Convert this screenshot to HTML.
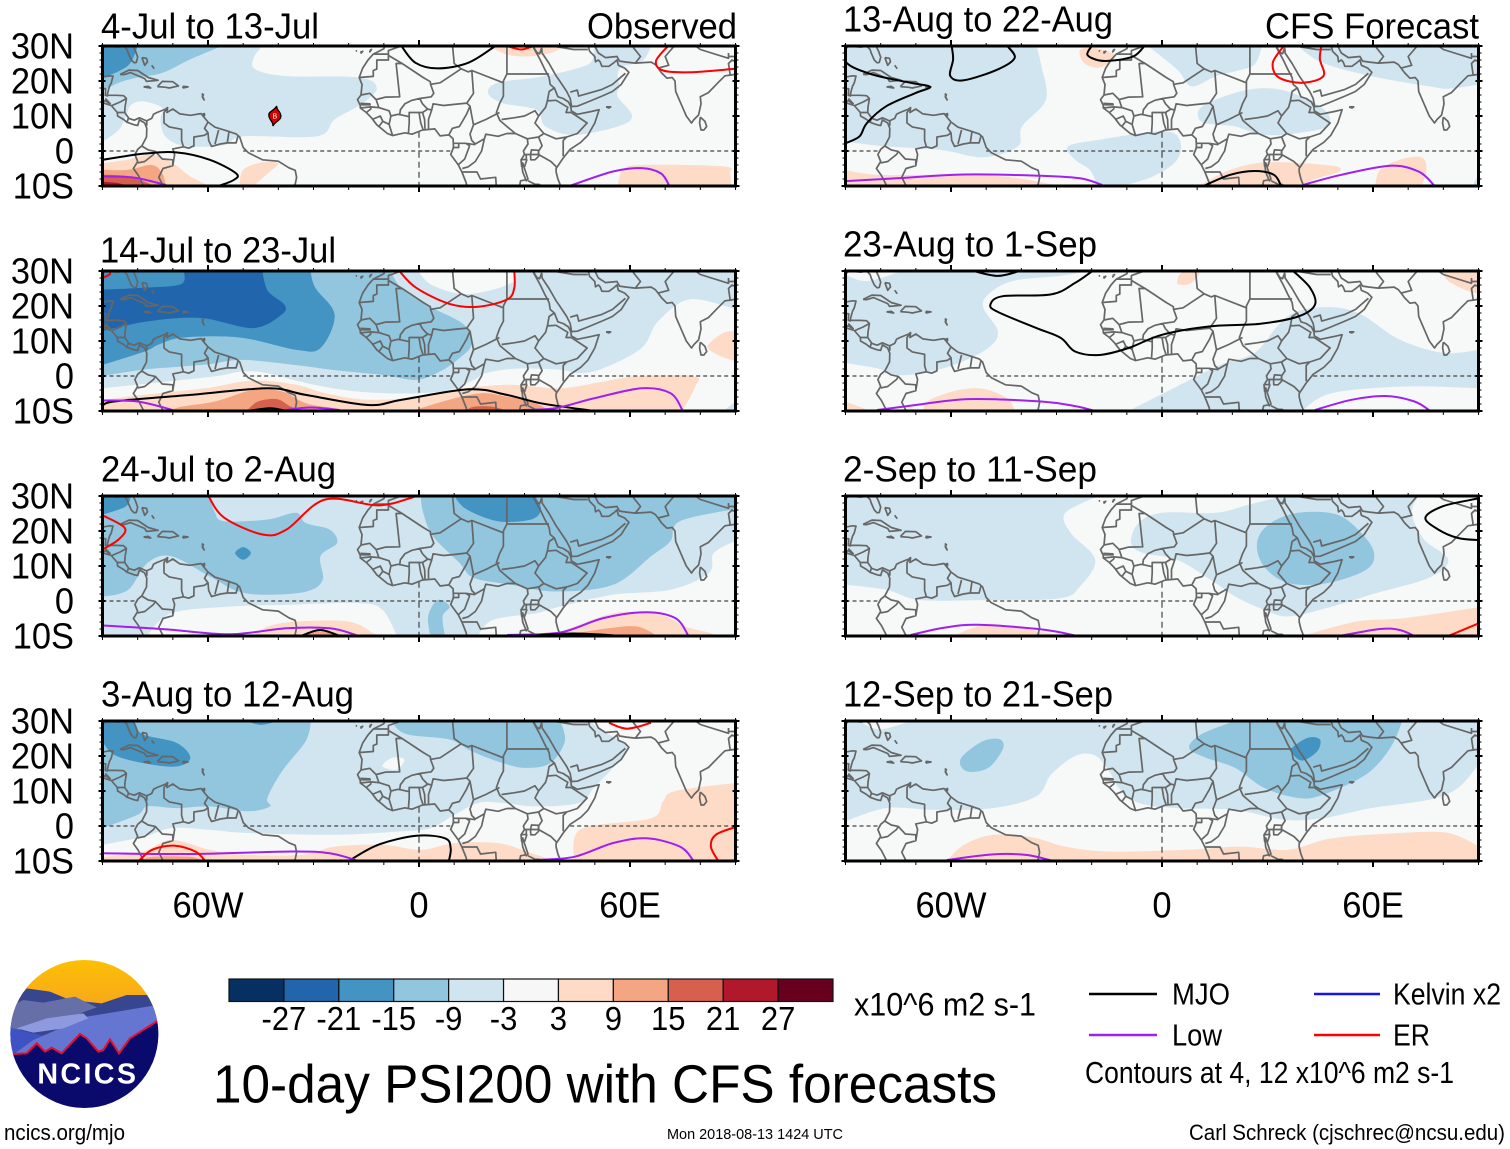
<!DOCTYPE html>
<html lang="en">
<head>
<meta charset="utf-8">
<title>10-day PSI200 with CFS forecasts</title>
<style>
html,body{margin:0;padding:0;background:#fff;}
svg{display:block;}
text{font-family:"Liberation Sans",sans-serif;fill:#000;}
</style>
</head>
<body>
<svg id="chart" width="1510" height="1149" viewBox="0 0 1510 1149" xmlns="http://www.w3.org/2000/svg">
<rect x="0" y="0" width="1510" height="1149" fill="#fff"/>
<g id="panels"></g>

<g font-size="36">
<text x="101" y="38.5" textLength="218" lengthAdjust="spacingAndGlyphs">4-Jul to 13-Jul</text>
<text x="100" y="262.5" textLength="236" lengthAdjust="spacingAndGlyphs">14-Jul to 23-Jul</text>
<text x="101" y="481.5" textLength="235" lengthAdjust="spacingAndGlyphs">24-Jul to 2-Aug</text>
<text x="101" y="706.5" textLength="253" lengthAdjust="spacingAndGlyphs">3-Aug to 12-Aug</text>
<text x="843" y="31.5" textLength="270" lengthAdjust="spacingAndGlyphs">13-Aug to 22-Aug</text>
<text x="843" y="256.5" textLength="254" lengthAdjust="spacingAndGlyphs">23-Aug to 1-Sep</text>
<text x="843" y="481.5" textLength="254" lengthAdjust="spacingAndGlyphs">2-Sep to 11-Sep</text>
<text x="843" y="706.5" textLength="270" lengthAdjust="spacingAndGlyphs">12-Sep to 21-Sep</text>
<text x="587" y="38.5" textLength="150" lengthAdjust="spacingAndGlyphs">Observed</text>
<text x="1265" y="38.5" textLength="214" lengthAdjust="spacingAndGlyphs">CFS Forecast</text>
</g>

<g id="lat-labels" font-size="36" text-anchor="end"></g>
<g id="lon-labels" font-size="36" text-anchor="middle"></g>

<g transform="translate(0,950) scale(0.33333)">
<defs>
<clipPath id="logo-clip"><circle cx="253" cy="252" r="222"/></clipPath>
<linearGradient id="sky-gradient" x1="0" y1="0" x2="0" y2="1"><stop offset="0" stop-color="#ffc400"/><stop offset="1" stop-color="#f6a81c"/></linearGradient>
</defs>
<g clip-path="url(#logo-clip)">
<rect x="0" y="0" width="500" height="170" fill="url(#sky-gradient)"/>
<polygon fill="#38458f" points="80,115 150,125 210,150 305,160 380,135 445,135 490,200 490,340 10,340 10,240 50,150"/>
<polygon fill="#666fa8" points="20,175 70,150 130,158 225,140 290,172 240,190 270,208 20,245"/>
<polygon fill="#3e52c4" points="10,228 100,250 150,262 60,330 10,330"/>
<polygon fill="#6475d2" points="42,312 100,270 260,200 490,162 490,230 360,330 42,330"/>
<polygon fill="#8f99de" points="50,235 140,205 250,190 265,205 190,235 100,248"/>
<polygon fill="#0a0a6c" stroke="#e3102f" stroke-width="6" points="42,312 80,310 110,280 135,305 155,293 185,310 240,252 260,265 295,305 310,300 330,268 357,310 390,265 472,213 520,200 520,500 0,500 0,312"/>
</g>
<text x="112" y="400" font-size="86" font-weight="bold" textLength="296" lengthAdjust="spacing" style="fill:#fff">NCICS</text>
</g>

<g id="colorbar"></g>
<text x="854" y="1015.5" font-size="32" textLength="182" lengthAdjust="spacingAndGlyphs">x10^6 m2 s-1</text>
<text x="213" y="1102.5" font-size="54" textLength="784" lengthAdjust="spacingAndGlyphs">10-day PSI200 with CFS forecasts</text>

<g font-size="31">
<line x1="1089" x2="1157" y1="994" y2="994" stroke="#000" stroke-width="2.4"/>
<text x="1172" y="1004.5" textLength="58" lengthAdjust="spacingAndGlyphs">MJO</text>
<line x1="1089" x2="1157" y1="1035" y2="1035" stroke="#a020f0" stroke-width="2.4"/>
<text x="1172" y="1045.5" textLength="50" lengthAdjust="spacingAndGlyphs">Low</text>
<line x1="1314" x2="1380" y1="994" y2="994" stroke="#1414ee" stroke-width="2.4"/>
<text x="1393" y="1004.5" textLength="108" lengthAdjust="spacingAndGlyphs">Kelvin x2</text>
<line x1="1314" x2="1380" y1="1035" y2="1035" stroke="#f00" stroke-width="2.4"/>
<text x="1393" y="1045.5" textLength="37" lengthAdjust="spacingAndGlyphs">ER</text>
<text x="1085" y="1083" textLength="369" lengthAdjust="spacingAndGlyphs">Contours at 4, 12 x10^6 m2 s-1</text>
</g>

<text x="4" y="1140" font-size="22" textLength="121" lengthAdjust="spacingAndGlyphs">ncics.org/mjo</text>
<text x="667" y="1139" font-size="15" textLength="176" lengthAdjust="spacingAndGlyphs">Mon 2018-08-13 1424 UTC</text>
<text x="1189" y="1140" font-size="22" textLength="316" lengthAdjust="spacingAndGlyphs">Carl Schreck (cjschrec@ncsu.edu)</text>
</svg>

<script>
/* ---------- colour scale ---------- */
const levelBounds = [-27,-21,-15,-9,-3,3,9,15,21,27];
const levelColors = ["#053061","#2166ac","#4393c3","#92c5de","#d1e5f0","#f7f8f8","#fddbc7","#f4a582","#d6604d","#b2182b","#67001f"];
const colorbarTicks = ["-27","-21","-15","-9","-3","3","9","15","21","27"];

/* ---------- axis tick values ---------- */
const latTicks = [30,20,10,0,-10];
const latTickLabels = ["30N","20N","10N","0","10S"];
const lonTicks = [-60,0,60];
const lonTickLabels = ["60W","0","60E"];

/* ---------- geography (lon, lat) ---------- */
const coastlines = [
[[-90,29.2],[-89,30],[-85.5,29.7],[-84,30],[-83,29],[-82.7,28],[-81.8,26],[-81,25.2],[-80.4,25.3],[-80,26.8],[-80.6,28.5],[-81.3,30]],
[[-90,21.1],[-88,21.5],[-87,21.4],[-87.5,19.5],[-88,18.5],[-88.3,17.5],[-88.7,15.9],[-86,15.9],[-84,15.8],[-83.2,15],[-83.6,12.5],[-83.7,11],[-82.5,9.3],[-81,8.8],[-79.5,9.5],[-77.5,8.6],[-76,9.3],[-75.5,10.5],[-74.5,11],[-72,12],[-71.5,12.4],[-71.7,11],[-70,12],[-68,10.6],[-65,10.2],[-62,10.7],[-61,9.5],[-60,8.3],[-58,6.8],[-55,5.9],[-52,4.9],[-51,4],[-50,1],[-48.5,-0.5],[-44.5,-2.5],[-40,-2.9],[-37,-4.8],[-35.2,-5.5],[-34.8,-7.5],[-35.2,-9.5],[-36,-10.5]],
[[-90,13.8],[-87.5,13],[-85.8,11],[-85.7,10],[-84,9],[-83,8.2],[-81,7.5],[-80,7.3],[-79.5,8.9],[-78,8],[-77.4,6.5],[-77.5,4],[-78.8,1.5],[-80,0.5],[-80.8,-1],[-80,-3],[-81.2,-5],[-79.8,-7],[-78.5,-9.5],[-78.1,-10.5]],
[[-85,21.9],[-82.5,23.1],[-80,23],[-77,21],[-74.2,20.2],[-77.5,19.9],[-78,20.7],[-82,22.4],[-84,21.8],[-85,21.9]],
[[-74.4,18.4],[-73,19.9],[-70,19.8],[-68.4,18.6],[-71,18],[-72,18.2],[-74.4,18.4]],
[[-78.3,18.3],[-76.3,18],[-77,18.5],[-78.3,18.3]],
[[-67.2,18],[-65.7,18.3],[-67,18.5],[-67.2,18]],
[[-78.8,26.7],[-77.5,26.5],[-77.2,25.5],[-78,24.5],[-78.8,26.7]],
[[-76,24.5],[-75.3,23.5]],
[[-61.8,16.4],[-61.3,16.1],[-61.6,15.4],[-61.1,14.6],[-61.7,15.9]],
[[-61.8,10.4],[-61,10.7],[-61,10.1],[-61.8,10.4]],
[[-9.7,30],[-10,29.2],[-13,27.7],[-14.5,26],[-16,23.7],[-17,21],[-16.2,19],[-16.5,16],[-17.5,14.7],[-16.7,13],[-16.7,12.3],[-15,11],[-13.5,9.5],[-12,7.5],[-9,5],[-7.5,4.4],[-4,5.2],[-2,4.8],[1,6],[4.5,6.3],[6,4.3],[8.5,4.6],[9.7,3.5],[9.8,1],[9,-1],[11.2,-4],[12.2,-6],[13.4,-9],[13.7,-10.5]],
[[40.5,-10.5],[39.5,-8],[39,-6],[39,-5],[41,-2],[43,0.5],[46,2.5],[48,4.5],[50,8],[51.2,11.8],[49,11.3],[45,10.5],[43.3,11.5],[43.2,12.6],[42.5,14],[41,15],[39.5,15.5],[38.5,18],[37.3,19],[37,21],[35.7,23.5],[34.5,26],[33.7,27.5],[32.6,29.5],[32.5,30.5]],
[[32.6,29.7],[33.5,28.2],[34.3,27.8],[34.9,29.5]],
[[34.9,29.5],[35,28],[37,25],[39,21.5],[40,20],[42,17],[43,15],[43.4,12.7],[45,12.8],[48,14],[52,15.7],[55,17],[57.5,19],[59.7,22.5],[58.5,23.7],[56.7,24.5],[56.3,26],[55.5,25.3],[54,24.2],[52,24.2],[51.5,25.5],[51,26],[50.2,25.5],[50,27],[48.5,28.5],[48,30.5]],
[[48.5,30],[50,30],[51,28],[53,26.7],[56.3,27],[57,25.7],[59,25.4],[61.5,25.1],[66,25.4],[67.2,24.7],[68,23.7],[69,22.3],[70.5,20.8],[72,21],[72.8,20],[73,17],[74.5,13.5],[76,10],[77.5,8],[78.2,9],[79.5,10.3],[80.2,13.5],[80,15.5],[82.3,16.7],[85,19.5],[87,21.5],[88.5,21.7],[90.5,22]],
[[80,9.7],[81.3,8.5],[81.8,7],[81,6],[80.2,6],[79.8,8],[80,9.7]],
[[53.2,12.6],[54.5,12.6],[54,12.3],[53.2,12.6]],
[[-16.7,28.2],[-16,28.5],[-16.4,28],[-16.7,28.2]],
[[-14,28.7],[-13.5,29],[-14,28.3],[-14,28.7]],
[[-18,28.6],[-17.6,28.6]],
[[31.7,-1],[32,0.3],[34,0.2],[34,-1.5],[33,-2.5],[31.8,-2.5],[31.7,-1]],
[[29.2,-3.5],[29.5,-6],[30.5,-8.5],[31,-8],[30,-5],[29.5,-3.4],[29.2,-3.5]],
[[34.5,-10.5],[34.3,-9.6],[34.9,-10.5]]
];
const countryBorders = [
[[-71.5,12.4],[-72.5,11],[-72.5,8],[-71,6.9],[-67.5,6.2],[-67.5,3],[-67,1.2]],
[[-72,-10.5],[-73,-9.5],[-74,-7.5],[-72.8,-5],[-70,-4.2],[-69.5,-1],[-70,0.6],[-67,1.2],[-65.5,0.8],[-64,1.5],[-64,4],[-61,4.5],[-60,5.2],[-59.8,3],[-59,1.3],[-56.5,2],[-54.5,2.3],[-52,2.3],[-51.5,4.2]],
[[-60,8.3],[-61,6.5],[-60,5.2]],
[[-57,6],[-58,2]],
[[-54,5.8],[-54.5,2.3]],
[[-80,-3.4],[-78,-3],[-75.5,-1],[-75,-0.1]],
[[-78.8,1.4],[-77,0.3],[-75,-0.1],[-73,-2.3],[-70,-2.5],[-70,-4.2]],
[[-77.4,8.6],[-77.4,7.2]],
[[-90,17.8],[-89.1,17.8],[-89.2,15.9],[-88.4,15.7]],
[[-90,13.8],[-89.3,14.4],[-87.7,13.4]],
[[-89.2,15],[-87.7,13.4]],
[[-87.3,13],[-85,14],[-83.2,15]],
[[-85.7,11],[-83.7,11]],
[[-83,8.2],[-82.6,9.5]],
[[-13,27.7],[-8.7,27.7],[-8.7,28.7],[-5,30],[-3,30.5]],
[[-8.7,27.7],[-8.7,26],[-12,26],[-12,23.4],[-13,23],[-13,21.3],[-17,21]],
[[-8.7,27.3],[-4.8,25],[-6.5,25],[-5.5,15.5],[-9.5,15.4],[-11,15],[-12.2,14.7]],
[[-16.5,16],[-14,16.5],[-12.2,14.7],[-11.4,12.4]],
[[-16.7,13.6],[-14,13.5],[-13.9,13.2],[-16.7,13.2]],
[[-16.7,12.3],[-13.7,12.6],[-13.7,12],[-15,11]],
[[-13.7,12.6],[-11.4,12.4],[-8.5,11.5],[-8,10]],
[[-13.3,9],[-11,10],[-10.3,8.5],[-11.5,6.9]],
[[-10.3,8.5],[-8.5,7.6],[-7.5,4.4]],
[[-8.5,7.6],[-8,10],[-6,10.5],[-5.5,10.4]],
[[-5.5,10.4],[-5.3,11.8],[-4,13.5],[-2,14.5],[0.2,15],[1,13.5],[2.4,12]],
[[-5.5,10.4],[-2.8,9.8],[-2.8,11],[-0.2,11],[1,11],[2.4,11.9]],
[[-2.8,11],[-2.8,8],[-3,5]],
[[0,11],[0.5,8],[1.2,6]],
[[1,11],[1.6,9],[1.7,6.3]],
[[3.6,11.7],[2.7,9],[2.7,6.4]],
[[2.4,12],[3.6,11.7],[4,13.5],[7,13],[10,13.3],[13.6,13.7]],
[[8.6,4.8],[9.5,6.5],[11.5,7],[13.5,10.5],[14.5,12.8],[13.6,13.7],[15.5,16.5],[15,23],[14,22.6],[12,23.5],[6,19.5],[4.2,19.2],[3.3,19],[4.2,16.5],[3.5,15.5],[0.2,15]],
[[-4.8,25],[1.2,21],[3.2,19.8],[3.3,19]],
[[12,23.5],[10,25],[9.5,30.5]],
[[25,30.5],[25,22],[24,20],[24,19.5],[15,23]],
[[25,22],[37,22]],
[[24,19.5],[24,15.7],[22.9,13.5],[22,11],[23,8.7],[25,7],[27.4,5]],
[[22.9,11],[19,9],[15.5,7.5],[15,10],[14.5,12.8]],
[[15.5,7.5],[14.5,4.8],[15,3],[16,2],[18.6,3.5],[19,4.8],[22.5,4.2],[25,5],[27.4,5]],
[[9.8,2.2],[13.3,2.2],[16,1.8]],
[[13.3,2.2],[14.4,1.5],[13,-2.3],[11.2,-3.9]],
[[9.5,1],[11.3,1],[11.3,2.2]],
[[18.6,3.5],[17.8,0],[16,-3],[14,-4.5],[12.3,-5]],
[[12.2,-6],[16.5,-6],[17.5,-8],[21.8,-7.5],[22,-10.5]],
[[23.5,9],[27,9.5],[30,10],[33,11.5],[34,10]],
[[27.4,5],[30.8,3.5],[34,4],[35.5,5],[33,8],[34,10],[36,12.5],[36.5,14.3],[37,17],[38.5,18]],
[[36.5,14.3],[39,14.5],[42.3,12.5],[41.8,11],[43.3,11]],
[[43.3,11],[47.8,8],[45,5],[42,4],[41,3],[41,-1.5]],
[[35.5,5],[39,3.5],[42,4]],
[[34,4],[35,1.5],[34,0],[34,-1],[37.5,-3],[39.2,-4.7]],
[[30,-1],[34,-1]],
[[30.8,3.5],[31,2],[29.7,0],[30,-1],[29,-2.5],[29.2,-4.5]],
[[29,-2.5],[30.5,-2.4],[30.5,-1]],
[[30.7,-2.4],[30,-4.5]],
[[31,-8.5],[33,-9.5],[34,-9.5],[34.5,-10.5]],
[[30.5,-8.2],[28.9,-8.5],[28.5,-10.5]],
[[43,16.8],[45,17.4],[45.4,15.7],[52,17.6],[55,19],[58.7,22.2]],
[[35,30.5],[38,30],[44,29],[46.5,29],[48,29]],
[[61.5,25.1],[63,27],[61,29.5],[61,30.5]],
[[68,23.7],[71,24.5],[70,27],[73,30.5]],
[[80,29],[88,26.5],[88,28]],
[[88.5,21.7],[88,25],[89,26],[90.5,25.3]],
[[78,30.5],[80,29]],
[[88,27],[90.5,27]]
];

/* ---------- PSI200 shaded regions: [level midpoint, [[lon,lat],...]] ---------- */
const shadesJul04 = [
[-6,[[-90,30],[-44.5,30],[-47,26.6],[-46.5,23.3],[-37.7,21.4],[-17,21],[-12,18],[-16,13.7],[-24,9],[-29,4.2],[-50,4.2],[-55,1.8],[-66,1.3],[-72,4],[-73.5,9],[-73,12.3],[-78.6,14.2],[-82,13],[-83.3,10],[-85.4,6],[-90,2.7]]],
[-12,[[-90,30],[-56,30],[-65,26.2],[-73,22.3],[-80,21],[-85.4,19.5],[-90,17]]],
[-18,[[-90,30],[-80,30],[-82,25.2],[-85.4,22.8],[-90,21]]],
[-6,[[49.7,30],[66,30],[63.5,25.7],[58,24.2],[56.5,21.9],[57,18.5],[56.5,15.6],[60.6,10],[56.5,7],[44,4.6],[36,7],[33.3,11.8],[23.7,13.7],[19.6,16.6],[22.4,19.5],[33.3,21],[44,23.3],[49,25.5]]],
[6,[[56.5,-10],[58,-5.4],[63.3,-4],[86.5,-4.4],[88.5,-6.4],[88.5,-10]]],
[6,[[19.6,30],[25,27.6],[30.5,27],[37.4,28],[41.5,30]]],
[6,[[-90,-3.5],[-83,-2.5],[-76,-1],[-70,-3.5],[-65,-7.3],[-59.5,-10],[-90,-10]]],
[6,[[-51,-10],[-50,-5.4],[-44.5,-3.2],[-40,-3.5],[-43,-6.4],[-47,-10]]],
[12,[[-90,-5.4],[-83,-5.4],[-76,-4],[-73,-6.4],[-72,-10],[-90,-10]]],
[18,[[-90,-6.8],[-83,-7.2],[-77,-9.2],[-76,-10],[-90,-10]]],
[24,[[-90,-8.8],[-85.4,-9.2],[-83,-10],[-90,-10]]]
];
const linesJul04 = [
["mjo",[[-90,-2.5],[-78.6,-0.8],[-69,-0.4],[-59.5,-2.5],[-52,-6.4],[-52.7,-8.3],[-57,-10]]],
["mjo",[[-5,30],[-1,25.2],[5.3,23.6],[14,25.2],[21.7,30]]],
["low",[[-90,-7.3],[-81,-7.6],[-72,-9.7]]],
["low",[[42.8,-10],[55,-5.9],[63.3,-4.9],[68.8,-6.4],[71.2,-10]]],
["er",[[25,30],[29,29],[32.6,30]]],
["er",[[70.8,30],[67.4,25.7],[69.4,23],[77,22.5],[90,23.5]]]
];

const shadesJul14 = [
[-6,[[-90,-3.5],[-71.8,-1.6],[-58.1,-0.1],[-50,1.3],[-43,0.8],[-32.2,-2],[-21.3,-4],[-10.4,-4.9],[0.5,-4.9],[8.7,-4],[15.6,-1.1],[19,0.8],[27.8,2.1],[40.1,1.8],[45.6,0.8],[52.4,2.2],[63.3,8],[68,15.6],[77,21.9],[90,19],[90,30],[-90,30]]],
[0,[[-0.1,30],[3.3,26.2],[11.5,23.5],[19.6,24.3],[27,27],[27,30]]],
[-12,[[-30.8,30],[-8,30],[-5,25],[1.9,20.4],[12.8,14.7],[14.9,9],[11.5,5.1],[6,1.3],[-0.8,-1.1],[-10.4,0.3],[-24,1.7],[-34.9,3.1],[-50,4.6],[-59.5,3.4],[-67.7,2.7],[-78.6,1.8],[-90,0],[-90,30]]],
[-18,[[-90,30],[-30.8,30],[-29.5,25.2],[-24,17.5],[-28,8],[-35,7.5],[-51,11],[-67,11],[-74,9],[-78,7],[-90,3.2]]],
[-24,[[-90,24.7],[-78.6,25.2],[-67.7,26.2],[-67,30],[-44.5,30],[-43,24.3],[-38.3,20.4],[-39,17.6],[-47.2,13.7],[-62.2,16.6],[-77.2,15.6],[-90,12.8]]],
[6,[[-90,-6.8],[-78.6,-5.4],[-60.8,-3.5],[-47.2,-1.3],[-34.9,-2.5],[-26.7,-4.9],[-14.5,-6.8],[0.5,-5.9],[10,-4],[25,-2.5],[40,-3.5],[52.4,-1.6],[62,-0.1],[78.3,-0.1],[78.3,-3.5],[74.9,-10],[-90,-10]]],
[12,[[-71,-10],[-67.7,-8.8],[-58,-7.3],[-47.2,-4],[-39,-4.4],[-32.2,-7.8],[-24,-9.2],[-20,-10]]],
[12,[[-2,-10],[10,-6.4],[18.3,-4.9],[25,-5.9],[32,-7.3],[37.4,-10]]],
[18,[[-49,-10],[-45.8,-7.3],[-40.4,-6.6],[-36.3,-8.8],[-32,-10]]],
[18,[[13,-10],[15.6,-8.8],[21,-8.8],[25,-10]]],
[24,[[-46,-10],[-42,-9.3],[-37,-10]]],
[6,[[82.1,8.5],[86.5,12.3],[90,12.8],[90,4.2],[85,6]]],
[-6,[[86.5,-10],[90,-7.3],[90,-10]]]
];
const linesJul14 = [
["mjo",[[-90,-9],[-86.8,-7.3],[-65,-5.4],[-43,-3.5],[-32.2,-5.4],[-14.5,-8.3],[-4.9,-6.8],[14.2,-3.8],[25,-5.4],[34.7,-7.8],[49.7,-10]]],
["mjo",[[-48.6,-10],[-42.4,-9.2],[-37.6,-10]]],
["low",[[-90,-7],[-80,-7.3],[-70,-9.7]]],
["low",[[-37.7,-9.7],[-30.8,-9],[-22.6,-9.7]]],
["low",[[29.2,-9.7],[38.7,-9.2],[49.7,-6.4],[63.3,-3.5],[71.5,-4.9],[74.9,-9.7]]],
["er",[[-5.6,30],[-0.8,25.2],[8.7,20.6],[16.9,19.8],[25.1,21.9],[27.1,25.2],[27.1,30]]],
["er",[[-90,28],[-88,29],[-87.8,30]]]
];

const shadesJul24 = [
[-6,[[-90,30],[90,30],[90,-10],[-90,-10]]],
[0,[[-77.2,-10],[-70.4,-3.5],[-54,-1.6],[-37.7,-1.1],[-17.2,-0.6],[-10.4,-2.5],[-6.3,-10]]],
[0,[[16.9,-10],[21,-5.4],[33.3,-3.5],[40,-1.6],[55.1,1.8],[71.5,3.2],[82.4,8],[83.8,13.7],[90,17.1],[90,-10]]],
[-12,[[-90,30],[-59.5,30],[-58,25.2],[-55.4,22.8],[-43,23.3],[-35,25.2],[-32.2,22.3],[-25.4,20.4],[-23.3,16.6],[-28,12.8],[-27.4,6],[-32,2.7],[-43,1.8],[-51.3,2.7],[-59.5,7],[-70.4,12.8],[-77.2,10.9],[-82.7,3.2],[-90,1.3]]],
[-12,[[0.5,30],[1.2,25.2],[4,18.5],[11.5,10.9],[15.6,6.6],[26.5,4.6],[38.7,2.7],[55.1,4.6],[66,12.8],[71.5,17.1],[74.2,22.8],[90,26.2],[90,30]]],
[-12,[[3.3,-10],[2.6,-4.4],[5.3,0.3],[8.7,-1.6],[6.7,-4.4],[7.4,-10]]],
[-18,[[-90,30],[-82,30],[-83.4,27],[-90,24.7]]],
[-18,[[10.1,30],[13.5,26.2],[22.4,22.8],[31.9,23.3],[34.7,26.2],[33,30]]],
[-18,[[-52.3,13.7],[-50,15.4],[-47.8,13.7],[-50,11.8]]],
[6,[[-47.2,-10],[-43,-7.3],[-35,-5.9],[-20,-5.9],[-13,-9.2],[-12,-10]]],
[6,[[37.4,-10],[44.2,-7.3],[56.5,-3.3],[68.8,-4],[75.6,-7.3],[83,-9.2],[84,-10]]],
[12,[[-33.5,-10],[-29,-8.8],[-24,-9],[-21,-10]]],
[12,[[40,-10],[53.8,-7.8],[62,-7.3],[67.4,-9.7],[68,-10]]]
];
const linesJul24 = [
["er",[[-59.9,30],[-55.4,23.8],[-44.5,19],[-37.7,20.4],[-26.7,29],[-11.7,27.3],[-2.2,29.5],[-1.8,30]]],
["er",[[-90,24.5],[-83.7,20.9],[-85.4,17.6],[-90,14.7]]],
["low",[[-90,-7],[-71.8,-8.1],[-54,-9.5],[-37.7,-7.8],[-25.4,-7.8],[-17.9,-9.7]]],
["low",[[25.1,-9.7],[40.1,-9],[52.4,-4.9],[64.7,-3.2],[72.9,-4.9],[76.5,-9.7]]],
["mjo",[[-33.6,-10],[-28.1,-8.3],[-22.6,-10]]],
["mjo",[[30.6,-10],[44,-9.3],[58,-10]]]
];

const shadesAug03 = [
[-6,[[-90,30],[48.3,30],[52.4,27.1],[59.2,22.3],[55.1,16.6],[49.7,10.9],[45.6,6.6],[33.3,5.6],[23.7,6.6],[16.9,6.6],[10.1,3.2],[3.3,-0.6],[-6.3,-1.6],[-24,-2.5],[-48.6,-2],[-59.5,-1.1],[-70.4,-0.6],[-78,-3],[-90,-5.4]]],
[0,[[-10.4,17.1],[-7.6,19.5],[-4.2,19],[-6.3,16.1]]],
[-12,[[-90,30],[-30.8,30],[-32.2,24.3],[-39,15.6],[-43.1,8],[-42.4,5.6],[-48.6,4.2],[-59.5,5.6],[-69,5.1],[-77.2,5.6],[-80,3.2],[-90,-0.6]]],
[-12,[[-7.6,30],[-7.6,29.5],[-3.5,26.2],[8.7,24.7],[14.9,21.4],[23.7,18],[30.6,16.6],[37.4,18],[41.5,24.3],[40.1,30]]],
[-18,[[-90,30],[-81.3,30],[-78.6,26.2],[-69,23.8],[-65,19.5],[-69,17],[-78.6,18],[-86.8,20.4],[-90,24.3]]],
[-18,[[-49,30],[-45,28.9],[-40.4,30]]],
[6,[[-90,-8.8],[-78.6,-7.3],[-70.4,-4],[-59.5,-6.8],[-50,-8.2],[-33,-8.2],[-24,-5.9],[-10.4,-5.4],[0.5,-6.8],[10.1,-4.9],[22.4,-4.9],[30.6,-7.3],[36,-9.2],[37,-10],[-90,-10]]],
[6,[[44.2,-10],[44.2,-3.5],[48.3,-0.1],[66,2.2],[69.4,7],[72.9,10],[90,12.3],[90,-10]]],
[12,[[-78.6,-10],[-75.9,-8.8],[-65,-8.8],[-61.5,-10]]]
];
const linesAug03 = [
["mjo",[[-20,-10],[-11.7,-5.4],[-0.8,-2.8],[7.4,-3.5],[9,-6.4],[8.5,-10]]],
["low",[[-90,-7.8],[-65,-8],[-36.3,-7.3],[-25.4,-7.8],[-17.2,-10]]],
["low",[[33.3,-9.7],[44.2,-8.8],[55.1,-4.9],[64.7,-3.5],[74.2,-5.9],[77.9,-9.7]]],
["er",[[-79.7,-10],[-75.9,-6.8],[-69.7,-5.6],[-63.6,-7.3],[-60.8,-10]]],
["er",[[54,29.5],[59.2,27.8],[66,29.5]]],
["er",[[90,-0.3],[84.4,-2.5],[83,-5.9],[85.1,-10]]]
];

const shadesAug13 = [
[-6,[[-90,30],[-35.7,30],[-34.3,24.3],[-33,14.7],[-39.8,7],[-41,1.3],[-50.8,-1.8],[-63,0.3],[-78.4,1.3],[-90,2.7]]],
[-6,[[-4,30],[4.3,23.3],[8.4,18.5],[15.3,21.4],[20.8,22.8],[26.3,24.7],[28.4,30]]],
[-6,[[10.5,11.8],[15.3,14.7],[25,17.6],[33.2,17.6],[41.5,14.7],[47,10.9],[47,7],[38.7,5.1],[29,4.6],[20.8,7],[15.3,7.5],[11,8.5]]],
[-6,[[38.7,30],[45.6,25.2],[59.4,21.4],[75.9,18.5],[81.4,17.8],[90,19],[90,30]]],
[-6,[[-26.7,1.3],[-17.8,3.2],[0,5.6],[5,3.2],[4.3,-2.5],[-2.6,-7.3],[-12.3,-10],[-17.8,-9.7],[-20.5,-5.4],[-24.7,-2.5]]],
[-6,[[88.3,-10],[90,-6.8],[90,-10]]],
[6,[[-90,-5.4],[-81,-6.8],[-62,-6.8],[-45,-7.3],[-33,-9.2],[-30,-10],[-90,-10]]],
[6,[[10.5,-10],[19.4,-5.4],[30.4,-3.2],[48.3,-4.2],[50.4,-5.9],[44.2,-7.8],[38.7,-10]]],
[6,[[60.7,-10],[62,-5.4],[67.6,-2.5],[73.8,-1.8],[75.2,-5.4],[73.8,-10]]],
[6,[[-23.5,28.5],[-22,25],[-18,23.8],[-14.5,25.5],[-13.5,27.5],[-17,29],[-21,29.5]]]
];
const linesAug13 = [
["mjo",[[-90,30],[-89.7,25.2],[-82.5,21.9],[-71.5,19.5],[-66,18.3],[-70,16.6],[-78.4,12.8],[-83.9,8],[-86,4.2],[-90,2.2]]],
["mjo",[[-59.8,30],[-59.4,26.2],[-60.2,21.4],[-56.3,20.2],[-46.7,23.3],[-41.9,26.6],[-44,30]]],
["mjo",[[-20,30],[-21.2,27.5],[-18,25.9],[-13.6,25.9],[-8,27.1],[-5,30]]],
["mjo",[[11.8,-10],[19.4,-6.8],[26.3,-5.7],[31.8,-6.8],[33.9,-10]]],
["low",[[-90,-8.6],[-75.6,-7.8],[-56.3,-6.7],[-34.3,-7.1],[-23.3,-7.8],[-17,-9.7]]],
["low",[[40,-9.7],[51,-6.8],[64.9,-4.2],[73,-5.9],[77.3,-9.7]]],
["er",[[34.6,30],[31.5,25.2],[33.2,21],[40,19.5],[45.9,21.4],[44.9,26.2],[45.3,30]]]
];

const shadesAug23 = [
[-6,[[-90,29],[-83.9,27.1],[-74,30],[-20.5,30],[-30,28.5],[-42.6,27.1],[-49.4,23.3],[-50.8,19.5],[-46.7,12.8],[-49.4,8],[-59,3.2],[-68.7,0.8],[-75.6,0.3],[-81,2.2],[-90,3.7]]],
[-6,[[-9.5,-10],[1.5,-4.4],[16.7,3.2],[26.3,6.6],[33.2,14.7],[38.7,18.5],[48.3,19.7],[56.6,17.6],[67.6,10.4],[80,6.6],[90,7.5],[90,-3.5],[69,-3],[48.3,-4.9],[40,-9.7],[38.5,-10]]],
[6,[[-68,-10],[-66,-6.8],[-57.7,-4],[-50.8,-3.7],[-44,-6.4],[-41.9,-10]]],
[6,[[-90,-7.3],[-85,-9.2],[-83,-10],[-90,-10]]],
[6,[[4.3,26.6],[5.6,29.5],[10.5,29.5],[8.4,26.6],[6,26]]],
[6,[[80,30],[81.4,27.1],[88.3,23.8],[90,24.3],[90,30]]]
];
const linesAug23 = [
["mjo",[[-53.6,30],[-46.7,28.6],[-40.5,30]]],
["mjo",[[-19.8,30],[-24.7,26.6],[-31.5,23.3],[-45.3,22.8],[-48.8,20.4],[-46.7,18.3],[-35.7,13.7],[-28.8,10.9],[-24.7,7],[-17.8,6],[-9.5,8],[0.1,11.8],[13.9,14.2],[27.7,14.9],[38.7,17],[43.5,20.4],[42.1,25.2],[37.3,30]]],
["low",[[-81,-9.7],[-70,-8.3],[-55,-6.6],[-34.3,-7.3],[-24.7,-8.6],[-19,-10]]],
["low",[[43.5,-9.7],[53.9,-6.8],[63.5,-5.7],[71.8,-7.3],[76.3,-10]]]
];

const shadesSep02 = [
[-6,[[-90,30],[-17.8,30],[-27.5,25.2],[-26,19.5],[-19,11.8],[-23.3,4.2],[-28.8,0.8],[-48,0.3],[-68.7,0.3],[-78.4,3.2],[-90,4.6]]],
[-6,[[24.9,27.6],[34.6,30],[73.1,30],[71,25.2],[74.5,17.6],[81.4,11.8],[75.9,6.6],[60.7,2.2],[48.3,-1.6],[36,-4.4],[29,-2.5],[20.8,1.3],[13.9,6],[4.3,11.8],[-5.4,13.7],[-8.8,16.6],[-6.7,22.3],[0.1,25.2],[15.3,25.2]]],
[-12,[[27,16.6],[30.4,21.9],[38.7,25.2],[49.7,24.7],[56.6,19.5],[60.3,13.7],[58,8.9],[47,5.1],[36,5.1],[29,9.9]]],
[6,[[-59,-10],[-52.1,-7.3],[-41.2,-7.3],[-35,-8.8],[-27.5,-10]]],
[6,[[40,-10],[55.2,-5.9],[69,-4.9],[90,-1.8],[90,-10]]]
];
const linesSep02 = [
["low",[[-71.5,-9.7],[-61.8,-7.6],[-52.2,-6.8],[-34.3,-8.1],[-24,-10]]],
["low",[[50.4,-10],[62,-8],[67.6,-8.3],[71.8,-10]]],
["er",[[81.4,-10],[90,-6.4]]],
["mjo",[[90,29.3],[80,27.1],[74.9,23.8],[78.6,20.4],[84.2,18],[90,17.4]]]
];

const shadesSep12 = [
[-6,[[-90,1.3],[-78.4,5.1],[-64.6,4.6],[-48,5.1],[-35.7,8.5],[-31.5,14.7],[-24.7,20],[-19.1,20.2],[-15,15.6],[-12.3,10.9],[-6.7,6.6],[4.3,5.1],[20.8,4.6],[34.6,1.8],[45.6,2.2],[59.4,5.1],[75.9,7.5],[84.2,10.9],[90,17.6],[90,30],[-90,30]]],
[0,[[-86,30],[-80.4,27.6],[-71.5,30]]],
[-12,[[-57.4,17.6],[-56.3,20.4],[-50.8,24.3],[-46,24.7],[-45.3,21.9],[-49.4,16.6],[-55,15.5]]],
[-12,[[7.7,22.3],[11.2,26.2],[20.8,30],[68.3,30],[64.9,22.3],[58,14.7],[45.6,8.9],[38.7,8],[29,10.9],[20.8,16.6],[12.5,19.5]]],
[-18,[[37,22.3],[41.5,25.2],[44.9,24.7],[44.2,21.4],[40,18.7],[37.3,20.4]]],
[6,[[-61.2,-10],[-56.3,-5.4],[-48,-2.5],[-37,-3.2],[-27.4,-5.9],[-15,-7.3],[7,-6.8],[22.2,-5.9],[36,-6.8],[48.3,-3.5],[67.6,-2],[81.4,-2],[90,-5.9],[90,-10]]]
];
const linesSep12 = [
["low",[[-61.2,-9.7],[-48,-8.1],[-38.4,-8.3],[-30.9,-10]]]
];

/* tropical-cyclone marker in the first panel */
const stormLon = -41;
const stormLat = 10;

/* ---------- panels ---------- */
const panelDefs = [
{id:"jul04",x:102.5,y:46,shades:shadesJul04,lines:linesJul04,latLabels:true,lonLabels:false,storm:true},
{id:"jul14",x:102.5,y:271,shades:shadesJul14,lines:linesJul14,latLabels:true,lonLabels:false},
{id:"jul24",x:102.5,y:496,shades:shadesJul24,lines:linesJul24,latLabels:true,lonLabels:false},
{id:"aug03",x:102.5,y:721,shades:shadesAug03,lines:linesAug03,latLabels:true,lonLabels:true},
{id:"aug13",x:845.5,y:46,shades:shadesAug13,lines:linesAug13,latLabels:false,lonLabels:false},
{id:"aug23",x:845.5,y:271,shades:shadesAug23,lines:linesAug23,latLabels:false,lonLabels:false},
{id:"sep02",x:845.5,y:496,shades:shadesSep02,lines:linesSep02,latLabels:false,lonLabels:false},
{id:"sep12",x:845.5,y:721,shades:shadesSep12,lines:linesSep12,latLabels:false,lonLabels:true}
];
const panelWidth = 633;
const panelHeight = 140;
const lineColors = {mjo:"#000000",low:"#a020f0",er:"#ff0000",kelvin:"#1414ee"};

const NS = "http://www.w3.org/2000/svg";
function lonToX(panel,lon){return panel.x+(lon+90)/180*panelWidth;}
function latToY(panel,lat){return panel.y+(30-lat)/40*panelHeight;}
function colorFor(v){
  let i=0;
  while(i<levelBounds.length && v>levelBounds[i]) i++;
  return levelColors[i];
}
function onEdge(p){return p[0]<=-90||p[0]>=90||p[1]>=30||p[1]<=-10;}
function f(n){return n.toFixed(1);}
function squeeze(t,k){
  t.setAttribute("textLength",(t.getComputedTextLength()*k).toFixed(1));
  t.setAttribute("lengthAdjust","spacingAndGlyphs");
}
function smoothPath(panel,pts,closed){
  const n=pts.length;
  const xy=pts.map(function(p){return [lonToX(panel,p[0]),latToY(panel,p[1])];});
  const idx=function(i){return closed?((i%n)+n)%n:Math.max(0,Math.min(n-1,i));};
  let d="M"+f(xy[0][0])+" "+f(xy[0][1]);
  const last=closed?n:n-1;
  for(let i=0;i<last;i++){
    const a=idx(i-1),b=idx(i),c=idx(i+1),e=idx(i+2);
    if(closed&&onEdge(pts[b])&&onEdge(pts[c])){
      d+="L"+f(xy[c][0])+" "+f(xy[c][1]);
      continue;
    }
    let c1=[xy[b][0]+(xy[c][0]-xy[a][0])/6,xy[b][1]+(xy[c][1]-xy[a][1])/6];
    let c2=[xy[c][0]-(xy[e][0]-xy[b][0])/6,xy[c][1]-(xy[e][1]-xy[b][1])/6];
    if(closed&&onEdge(pts[a])&&onEdge(pts[b])) c1=xy[b];
    if(closed&&onEdge(pts[c])&&onEdge(pts[e])) c2=xy[c];
    d+="C"+f(c1[0])+" "+f(c1[1])+" "+f(c2[0])+" "+f(c2[1])+" "+f(xy[c][0])+" "+f(xy[c][1]);
  }
  return closed?d+"Z":d;
}
function polyPath(panel,list){
  return list.map(function(line){
    return "M"+line.map(function(p){return f(lonToX(panel,p[0]))+" "+f(latToY(panel,p[1]));}).join("L");
  }).join("");
}
function tick(parent,x1,y1,x2,y2,w){
  const t=document.createElementNS(NS,"line");
  
  
  t.setAttribute("x1",x1);t.setAttribute("y1",y1);t.setAttribute("x2",x2);t.setAttribute("y2",y2);
  t.setAttribute("stroke","#000");t.setAttribute("stroke-width",w);
  parent.appendChild(t);
}

const panelsRoot=document.getElementById("panels");
const latRoot=document.getElementById("lat-labels");
const lonRoot=document.getElementById("lon-labels");

panelDefs.forEach(function(panel){
  const g=document.createElementNS(NS,"g");
  
  
  panelsRoot.appendChild(g);

  const clip=document.createElementNS(NS,"clipPath");
  clip.setAttribute("id","clip-"+panel.id);
  const cr=document.createElementNS(NS,"rect");
  cr.setAttribute("x",panel.x);cr.setAttribute("y",panel.y);
  cr.setAttribute("width",panelWidth);cr.setAttribute("height",panelHeight);
  clip.appendChild(cr);
  g.appendChild(clip);

  const inner=document.createElementNS(NS,"g");
  inner.setAttribute("clip-path","url(#clip-"+panel.id+")");
  
  
  g.appendChild(inner);

  const bg=document.createElementNS(NS,"rect");
  
  
  bg.setAttribute("x",panel.x);bg.setAttribute("y",panel.y);
  bg.setAttribute("width",panelWidth);bg.setAttribute("height",panelHeight);
  bg.setAttribute("fill",colorFor(0));
  inner.appendChild(bg);

  panel.shades.forEach(function(s){
    const p=document.createElementNS(NS,"path");
    
    
    p.setAttribute("d",smoothPath(panel,s[1],true));
    p.setAttribute("fill",colorFor(s[0]));
    inner.appendChild(p);
  });

  const eq=document.createElementNS(NS,"path");
  
  
  eq.setAttribute("d",polyPath(panel,[[[-90,0],[-80,0]],[[-50,0],[9,0]],[[43,0],[90,0]]]));
  eq.setAttribute("stroke","#444");
  eq.setAttribute("stroke-width","1.2");
  eq.setAttribute("stroke-dasharray","4 3");
  eq.setAttribute("fill","none");
  inner.appendChild(eq);

  const pm=document.createElementNS(NS,"path");
  
  
  pm.setAttribute("d",polyPath(panel,[[[0,5.5],[0,-10]]]));
  pm.setAttribute("stroke","#444");
  pm.setAttribute("stroke-width","1.2");
  pm.setAttribute("stroke-dasharray","6 4");
  pm.setAttribute("fill","none");
  inner.appendChild(pm);

  const coast=document.createElementNS(NS,"path");
  
  
  coast.setAttribute("d",polyPath(panel,coastlines));
  coast.setAttribute("stroke","#666");
  coast.setAttribute("stroke-width","1.7");
  coast.setAttribute("fill","none");
  coast.setAttribute("stroke-linejoin","round");
  inner.appendChild(coast);

  const borders=document.createElementNS(NS,"path");
  
  
  borders.setAttribute("d",polyPath(panel,countryBorders));
  borders.setAttribute("stroke","#666");
  borders.setAttribute("stroke-width","1.7");
  borders.setAttribute("fill","none");
  borders.setAttribute("stroke-linejoin","round");
  inner.appendChild(borders);

  panel.lines.forEach(function(l){
    const p=document.createElementNS(NS,"path");
    
    
    p.setAttribute("d",smoothPath(panel,l[1],false));
    p.setAttribute("fill","none");
    p.setAttribute("stroke",lineColors[l[0]]);
    p.setAttribute("stroke-width","2");
    inner.appendChild(p);
  });

  if(panel.storm){
    const sx=lonToX(panel,stormLon),sy=latToY(panel,stormLat);
    const storm=document.createElementNS(NS,"g");
    
    
    inner.appendChild(storm);
    const body=document.createElementNS(NS,"path");
    
    
    body.setAttribute("d","M"+(sx+2)+" "+(sy-10)+"C"+(sx+1)+" "+(sy-6)+" "+(sx+7)+" "+(sy-4)+" "+(sx+6)+" "+(sy+1)+"C"+(sx+6)+" "+(sy+4)+" "+(sx+1)+" "+(sy+5)+" "+(sx-2)+" "+(sy+10)+"C"+(sx-1)+" "+(sy+6)+" "+(sx-6)+" "+(sy+4)+" "+(sx-6)+" "+(sy-1)+"C"+(sx-6)+" "+(sy-5)+" "+(sx-1)+" "+(sy-5)+" "+(sx+2)+" "+(sy-10)+"Z");
    body.setAttribute("fill","#d40000");
    body.setAttribute("stroke","#000");
    body.setAttribute("stroke-width","1.3");
    storm.appendChild(body);
    const st=document.createElementNS(NS,"text");
    
    
    st.setAttribute("x",sx);st.setAttribute("y",sy+2.5);
    st.setAttribute("font-size","7");
    st.setAttribute("text-anchor","middle");
    st.setAttribute("style","fill:#fff");
    st.textContent="B";
    storm.appendChild(st);
  }

  /* ticks */
  const ticks=document.createElementNS(NS,"g");
  
  
  g.appendChild(ticks);
  const top=panel.y,bot=panel.y+panelHeight,left=panel.x,right=panel.x+panelWidth;
  for(let lon=-90;lon<=90;lon+=10){
    const x=lonToX(panel,lon);
    const major=lonTicks.indexOf(lon)>=0;
    tick(ticks,x,bot,x,bot+(major?6:4),major?2:1);
    tick(ticks,x,top,x,top-(major?6:3),major?2:1);
  }
  for(let lat=-10;lat<=30;lat+=2){
    const y=latToY(panel,lat);
    const major=latTicks.indexOf(lat)>=0;
    tick(ticks,left-(major?4:3),y,left+(major?3:0),y,major?2:1);
    tick(ticks,right-(major?3:0),y,right+(major?4:3),y,major?2:1);
  }

  const frame=document.createElementNS(NS,"rect");
  
  
  frame.setAttribute("x",panel.x);frame.setAttribute("y",panel.y);
  frame.setAttribute("width",panelWidth);frame.setAttribute("height",panelHeight);
  frame.setAttribute("fill","none");
  frame.setAttribute("stroke","#000");
  frame.setAttribute("stroke-width","3");
  g.appendChild(frame);

  if(panel.latLabels){
    latTicks.forEach(function(lat,i){
      const t=document.createElementNS(NS,"text");
      
      
      t.setAttribute("x",74);
      t.setAttribute("y",latToY(panel,lat)+12.5);
      t.textContent=latTickLabels[i];
      latRoot.appendChild(t);
      squeeze(t,0.955);
    });
  }
  if(panel.lonLabels){
    lonTicks.forEach(function(lon,i){
      const t=document.createElementNS(NS,"text");
      
      
      t.setAttribute("x",lonToX(panel,lon));
      t.setAttribute("y",917.5);
      t.textContent=lonTickLabels[i];
      lonRoot.appendChild(t);
      squeeze(t,0.96);
    });
  }
});

/* ---------- colour bar ---------- */
const cbRoot=document.getElementById("colorbar");
const cbX=229,cbW=604,cbY=979,cbH=22.5;
levelColors.forEach(function(c,i){
  const r=document.createElementNS(NS,"rect");
  
  
  r.setAttribute("x",cbX+i*cbW/levelColors.length);
  r.setAttribute("y",cbY);
  r.setAttribute("width",cbW/levelColors.length);
  r.setAttribute("height",cbH);
  r.setAttribute("fill",i===5?"#f7f7f7":c);
  r.setAttribute("stroke","#111");
  r.setAttribute("stroke-width","1.2");
  cbRoot.appendChild(r);
});
colorbarTicks.forEach(function(lbl,i){
  const t=document.createElementNS(NS,"text");
  
  
  t.setAttribute("x",cbX+(i+1)*cbW/levelColors.length);
  t.setAttribute("y",1030);
  t.setAttribute("font-size","33");
  t.setAttribute("text-anchor","middle");
  t.textContent=lbl;
  cbRoot.appendChild(t);
  squeeze(t,0.94);
});
</script>
</body>
</html>
